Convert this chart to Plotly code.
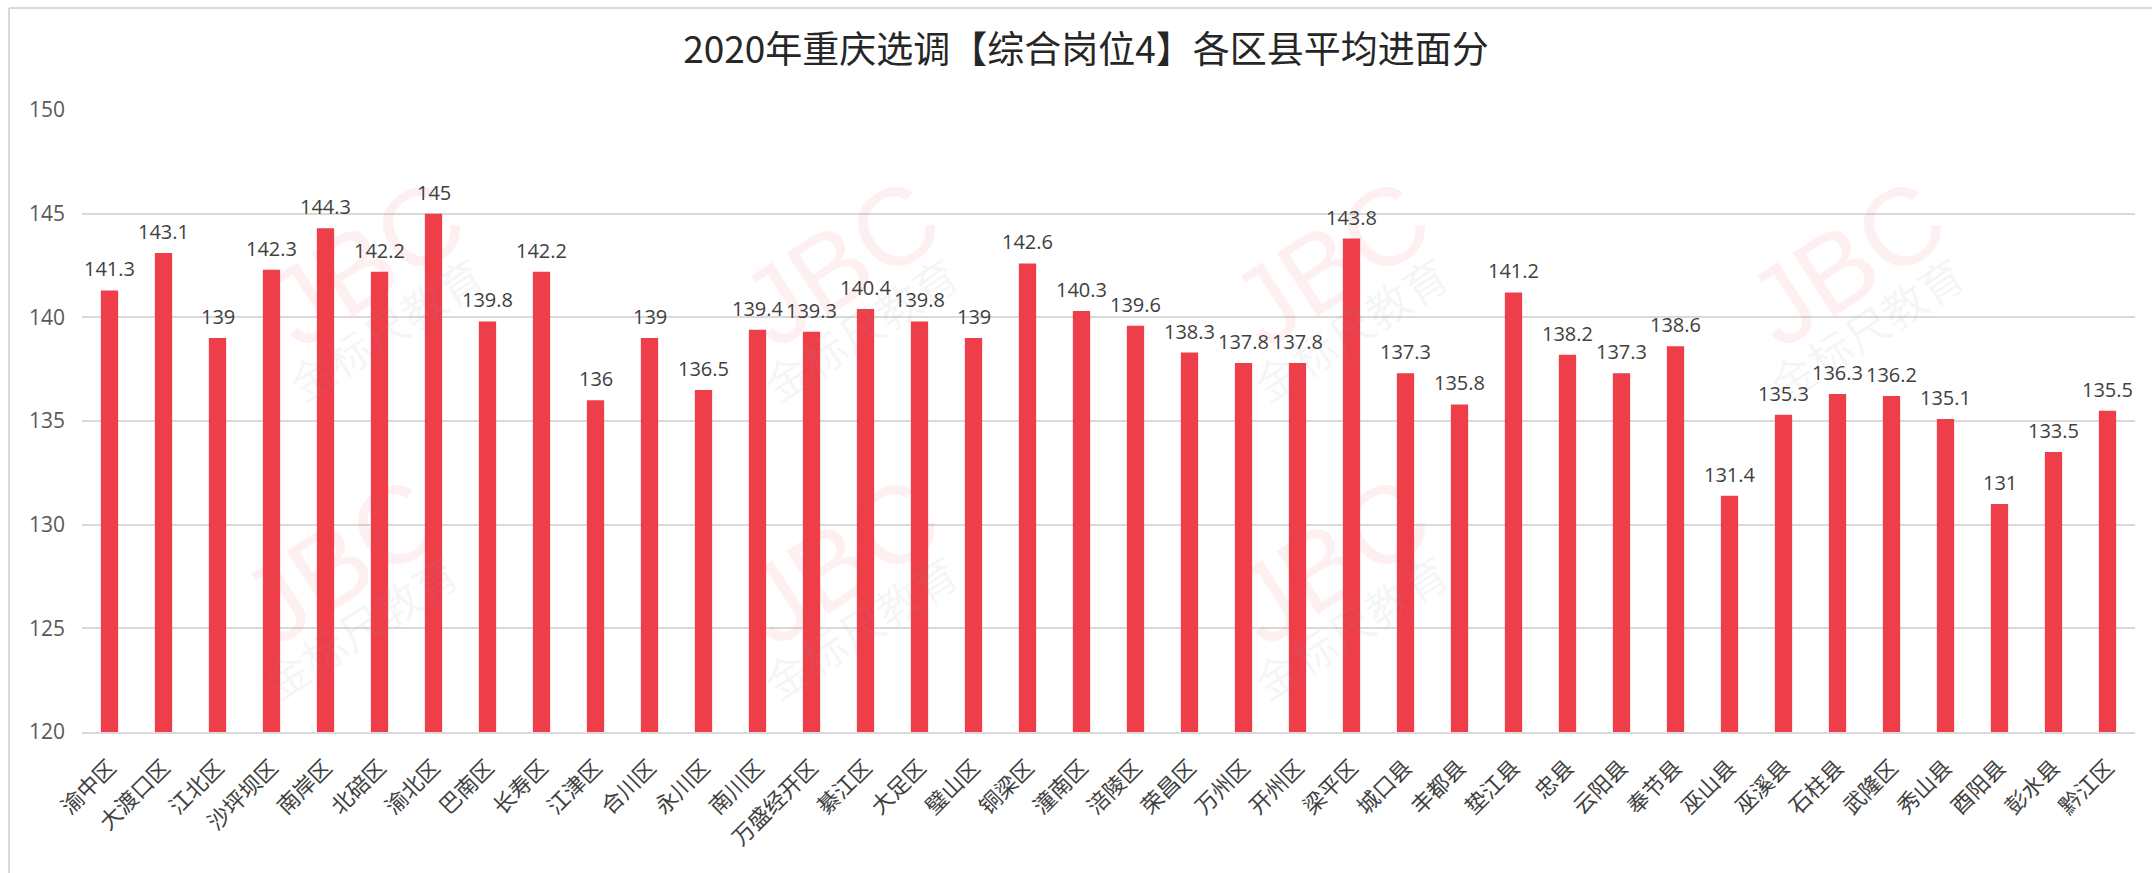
import plotly.graph_objects as go

districts = ["渝中区", "大渡口区", "江北区", "沙坪坝区", "南岸区", "北碚区", "渝北区", "巴南区",
             "长寿区", "江津区", "合川区", "永川区", "南川区", "万盛经开区", "綦江区", "大足区",
             "璧山区", "铜梁区", "潼南区", "涪陵区", "荣昌区", "万州区", "开州区", "梁平区",
             "城口县", "丰都县", "垫江县", "忠县", "云阳县", "奉节县", "巫山县", "巫溪县",
             "石柱县", "武隆区", "秀山县", "酉阳县", "彭水县", "黔江区"]
scores = [141.3, 143.1, 139, 142.3, 144.3, 142.2, 145, 139.8,
          142.2, 136, 139, 136.5, 139.4, 139.3, 140.4, 139.8,
          139, 142.6, 140.3, 139.6, 138.3, 137.8, 137.8, 143.8,
          137.3, 135.8, 141.2, 138.2, 137.3, 138.6, 131.4, 135.3,
          136.3, 136.2, 135.1, 131, 133.5, 135.5]
y_ticks = [120, 125, 130, 135, 140, 145, 150]
title_text = "2020年重庆选调【综合岗位4】各区县平均进面分"
watermark_logo = "JBC"
watermark_name = "金标尺教育"

W, H = 2152, 873
L, R, T, B = 82, 17, 110, 141
pw, ph = W - L - R, H - T - B

def px_x(x):
    return (x - L) / pw

def px_y(y):
    return (H - B - y) / ph

fig = go.Figure(go.Bar(
    x=districts, y=scores,
    marker=dict(color="#EE3E4A", line=dict(width=0)),
    width=0.32,
    hoverinfo="x+y",
))

# faint watermark (pixel centres of each logo group)
wm_centres = [(365, 262), (840, 262), (1330, 262), (1846, 262),
              (340, 560), (840, 560), (1330, 560)]
for cx, cy in wm_centres:
    fig.add_annotation(xref="paper", yref="paper", x=px_x(cx), y=px_y(cy), text=watermark_logo,
                       showarrow=False, textangle=-33, xanchor="center", yanchor="middle",
                       font=dict(size=110, color="rgba(238,62,74,0.08)", family="Liberation Sans"))
    fig.add_annotation(xref="paper", yref="paper", x=px_x(cx + 20), y=px_y(cy + 66), text=watermark_name,
                       showarrow=False, textangle=-33, xanchor="center", yanchor="middle",
                       font=dict(size=44, color="rgba(150,150,150,0.09)", family="Noto Sans CJK SC"))

for d, v in zip(districts, scores):
    fig.add_annotation(x=d, y=v, text=f"{v:g}", showarrow=False, yanchor="bottom", yshift=6,
                       font=dict(size=20, color="#404040", family="Open Sans, Noto Sans CJK SC"))

fig.update_layout(
    width=W, height=H,
    margin=dict(l=L, r=R, t=T, b=B),
    paper_bgcolor="white", plot_bgcolor="white",
    title=dict(text=title_text, x=1086 / W, xanchor="center", y=1 - 50 / H, yanchor="middle",
               font=dict(size=37, color="#262626", family="Noto Sans CJK SC")),
    showlegend=False,
    xaxis=dict(tickangle=-45, tickfont=dict(size=22, color="#404040", family="Noto Sans CJK SC"),
               showgrid=False, showline=True, linecolor="#d9d9d9", linewidth=2, ticks="",
               ticklabelstandoff=12),
    yaxis=dict(range=[120, 150], tickvals=y_ticks, showgrid=True, gridcolor="#d9d9d9", gridwidth=2,
               zeroline=False, tickfont=dict(size=21, color="#595959", family="Open Sans"),
               ticks="", ticklabelstandoff=16),
    shapes=[
        dict(type="line", xref="paper", yref="paper", x0=px_x(9), x1=px_x(W), y0=px_y(8), y1=px_y(8),
             line=dict(color="#d9d9d9", width=2)),
        dict(type="line", xref="paper", yref="paper", x0=px_x(9), x1=px_x(9), y0=px_y(8), y1=px_y(H),
             line=dict(color="#d9d9d9", width=2)),
    ],
)

fig.write_html("out.html", config={"displayModeBar": False},
               post_script="document.body.style.margin='0';document.body.style.overflow='hidden';")
